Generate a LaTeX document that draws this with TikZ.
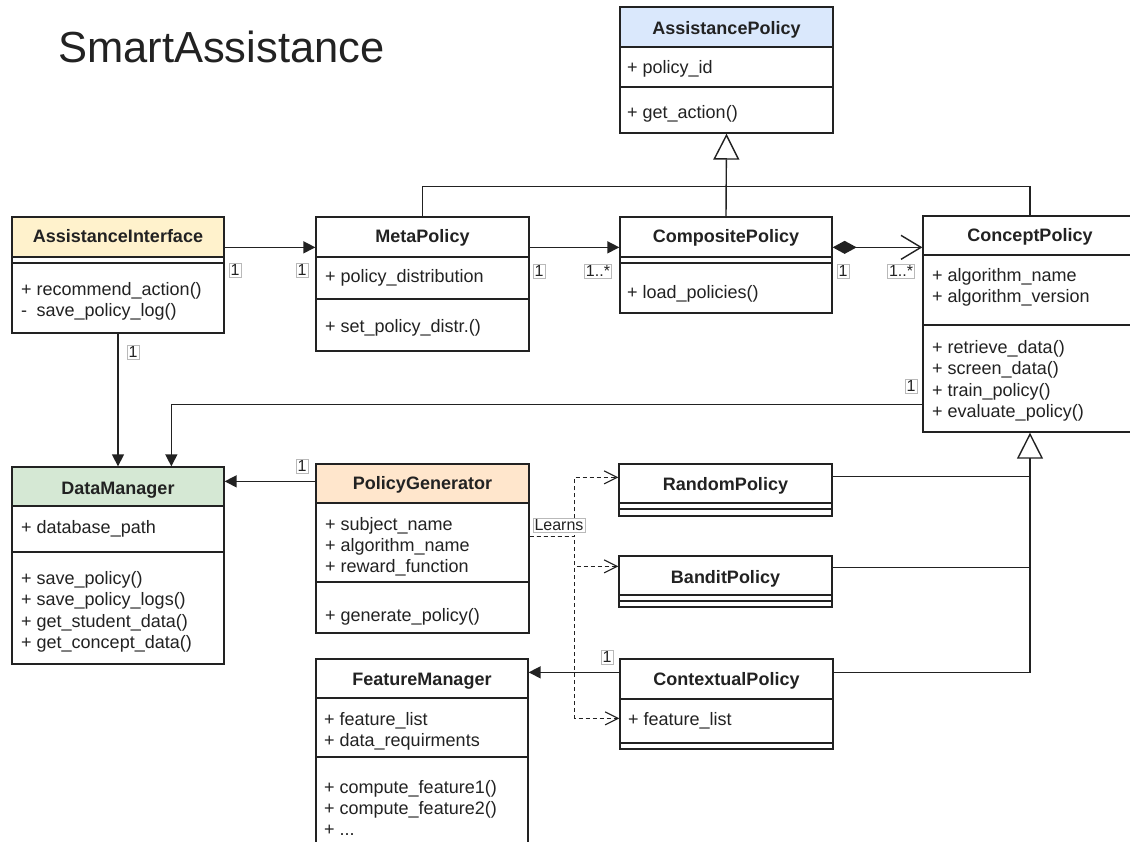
\documentclass[tikz,border=0pt]{standalone}
\usepackage{fontspec}
\setmainfont{Liberation Sans}
\usetikzlibrary{arrows.meta,fit}

\definecolor{hdrblue}{HTML}{DAE8FC}
\definecolor{hdryellow}{HTML}{FFF2CC}
\definecolor{hdrgreen}{HTML}{D5E8D4}
\definecolor{hdrorange}{HTML}{FFE6CC}
\definecolor{ink}{HTML}{222222}

\tikzset{
  classframe/.style={draw=ink, line width=1.3pt, inner sep=0pt},
  compline/.style={draw=ink, line width=1.3pt},
  cname/.style={font=\fontsize{18}{21}\selectfont\bfseries, text=ink, inner sep=0pt, anchor=base},
  member/.style={font=\fontsize{18}{21}\selectfont, text=ink, inner sep=0pt, anchor=base west},
  mult/.style={font=\fontsize{16}{19}\selectfont, text=ink, draw=gray!55, line width=0.6pt, fill=white, inner sep=1.5pt},
  wire/.style={draw=ink, line width=1.4pt},
  assoc/.style={wire, -{Triangle[length=12pt,width=12pt]}},
  generalize/.style={wire, -{Triangle[open,length=26pt,width=26pt,fill=white]}},
  compose/.style={wire, {Diamond[length=24pt,width=13pt]}-{Straight Barb[length=20pt,width=24pt]}},
  depend/.style={draw=ink, line width=1.1pt, dash pattern=on 4pt off 3pt, -{Straight Barb[length=13pt,width=13pt]}},
}

% #1 name, #2 left, #3 top, #4 right, #5 bottom, #6 header bottom, #7 header colour
\newcommand\classbox[7]{%
  \fill[#7] (#2,#3) rectangle (#4,#6);
  \node[classframe, fit={(#2,#3) (#4,#5)}] (#1) {};
  \draw[compline] (#2,#6) -- (#4,#6);
}

\begin{document}
\begin{tikzpicture}[x=1pt,y=-1pt]
\path[use as bounding box] (0,0) rectangle (1130,842);
\clip (0,0) rectangle (1130,842);
\fill[white] (0,0) rectangle (1130,842);

\node[font=\fontsize{43.5}{50}\selectfont, text=ink, inner sep=0pt, anchor=base west] (title) at (58,63) {SmartAssistance};

% AssistancePolicy
\classbox{ap}{620}{7}{833}{133}{47}{hdrblue}
\draw[compline] (620,87) -- (833,87);
\node[cname] (ap-name) at (726.5,35) {AssistancePolicy};
\node[member] (ap-a1) at (627,74) {+ policy\_id};
\node[member] (ap-m1) at (627,119) {+ get\_action()};

% AssistanceInterface
\classbox{ai}{12}{217}{224}{333}{257}{hdryellow}
\draw[compline] (12,263) -- (224,263);
\node[cname] (ai-name) at (118,243) {AssistanceInterface};
\node[member] (ai-m1) at (21,296) {+ recommend\_action()};
\node[member] (ai-m2) at (21,317) {\makebox[0.86em][l]{-}save\_policy\_log()};

% MetaPolicy
\classbox{mp}{316}{217}{529}{351}{257}{white}
\draw[compline] (316,299) -- (529,299);
\node[cname] (mp-name) at (422.5,243) {MetaPolicy};
\node[member] (mp-a1) at (325,283) {+ policy\_distribution};
\node[member] (mp-m1) at (325,333) {+ set\_policy\_distr.()};

% CompositePolicy
\classbox{cp}{620}{217}{832}{313}{257}{white}
\draw[compline] (620,263) -- (832,263);
\node[cname] (cp-name) at (726,243) {CompositePolicy};
\node[member] (cp-m1) at (627,299) {+ load\_policies()};

% ConceptPolicy
\classbox{cc}{923}{216}{1137}{432}{255}{white}
\draw[compline] (923,325) -- (1137,325);
\node[cname] (cc-name) at (1030,242) {ConceptPolicy};
\node[member] (cc-a1) at (932,282) {+ algorithm\_name};
\node[member] (cc-a2) at (932,303) {+ algorithm\_version};
\node[member] (cc-m1) at (932,353) {+ retrieve\_data()};
\node[member] (cc-m2) at (932,374) {+ screen\_data()};
\node[member] (cc-m3) at (932,396) {+ train\_policy()};
\node[member] (cc-m4) at (932,417) {+ evaluate\_policy()};

% DataManager
\classbox{dm}{12}{467}{224}{664}{506}{hdrgreen}
\draw[compline] (12,552) -- (224,552);
\node[cname] (dm-name) at (118,494) {DataManager};
\node[member] (dm-a1) at (21,533) {+ database\_path};
\node[member] (dm-m1) at (21,584) {+ save\_policy()};
\node[member] (dm-m2) at (21,605) {+ save\_policy\_logs()};
\node[member] (dm-m3) at (21,627) {+ get\_student\_data()};
\node[member] (dm-m4) at (21,648) {+ get\_concept\_data()};

% PolicyGenerator
\classbox{pg}{316}{464}{529}{633}{503}{hdrorange}
\draw[compline] (316,582) -- (529,582);
\node[cname] (pg-name) at (422.5,489) {PolicyGenerator};
\node[member] (pg-a1) at (325,530) {+ subject\_name};
\node[member] (pg-a2) at (325,551) {+ algorithm\_name};
\node[member] (pg-a3) at (325,572) {+ reward\_function};
\node[member] (pg-m1) at (325,621) {+ generate\_policy()};

% RandomPolicy
\classbox{rp}{619}{464}{832}{516}{503}{white}
\draw[compline] (619,509) -- (832,509);
\node[cname] (rp-name) at (725.5,490) {RandomPolicy};

% BanditPolicy
\classbox{bp}{619}{556}{832}{607}{595}{white}
\draw[compline] (619,601) -- (832,601);
\node[cname] (bp-name) at (725.5,583) {BanditPolicy};

% FeatureManager
\classbox{fm}{316}{659}{528}{860}{698}{white}
\draw[compline] (316,757) -- (528,757);
\node[cname] (fm-name) at (422,685) {FeatureManager};
\node[member] (fm-a1) at (324,725) {+ feature\_list};
\node[member] (fm-a2) at (324,746) {+ data\_requirments};
\node[member] (fm-m1) at (324,793) {+ compute\_feature1()};
\node[member] (fm-m2) at (324,814) {+ compute\_feature2()};
\node[member] (fm-m3) at (324,835) {+ ...};

% ContextualPolicy
\classbox{xp}{620}{659}{833}{749}{699}{white}
\draw[compline] (620,743) -- (833,743);
\node[cname] (xp-name) at (726.5,685) {ContextualPolicy};
\node[member] (xp-a1) at (628,725) {+ feature\_list};

% inheritance from AssistancePolicy
\draw[wire] (mp.north) -- ++(0,-30) -| (cc.north);
\draw[generalize] (cp.north) -- (ap.south);

% associations
\draw[assoc] ([yshift=-31pt]ai.north east) -- ([yshift=-31pt]mp.north west);
\draw[assoc] ([yshift=-31pt]mp.north east) -- ([yshift=-31pt]cp.north west);
\draw[compose] ([yshift=-31pt]cp.north east) -- ([yshift=-32pt]cc.north west);
\draw[assoc] (ai.south) -- (dm.north);
\draw[assoc] ([yshift=28pt]cc.south west) -| ([xshift=160pt]dm.north west);
\coordinate (pgL) at ([yshift=-18pt]pg.north west);
\draw[assoc] (pgL) -- (pgL -| dm.east);
\coordinate (xpL) at ([yshift=-14pt]xp.north west);
\draw[assoc] (xpL) -- (xpL -| fm.east);

% inheritance from ConceptPolicy
\coordinate (rpR) at ([yshift=-13pt]rp.north east);
\coordinate (bpR) at ([yshift=-12pt]bp.north east);
\coordinate (xpR) at ([yshift=-14pt]xp.north east);
\draw[wire] (rpR) -- (rpR -| cc.south);
\draw[wire] (bpR) -- (bpR -| cc.south);
\draw[generalize] (xpR) -| (cc.south);

% dependencies of the generator
\coordinate (pgR) at ([yshift=-73pt]pg.north east);
\draw[depend] (pgR) -- ++(45,0) |- ([yshift=-14pt]rp.north west);
\draw[depend] (pgR) -- ++(45,0) |- ([yshift=-11pt]bp.north west);
\draw[depend] (pgR) -- ++(45,0) |- ([yshift=-60pt]xp.north west);
\node[mult] (learns) at (559,525) {Learns};

% multiplicities
\node[mult] (ai-mult) at (235,270) {1};
\node[mult] (mp-mult-in) at (302,270) {1};
\node[mult] (mp-mult-out) at (539,271) {1};
\node[mult] (cp-mult-in) at (598,271) {1..*};
\node[mult] (cp-mult-out) at (843,271) {1};
\node[mult] (cc-mult-in) at (901,271) {1..*};
\node[mult] (ai-mult-dm) at (133,352) {1};
\node[mult] (cc-mult-dm) at (911,386) {1};
\node[mult] (pg-mult-dm) at (302,466) {1};
\node[mult] (xp-mult-fm) at (607,657) {1};
\end{tikzpicture}
\end{document}
